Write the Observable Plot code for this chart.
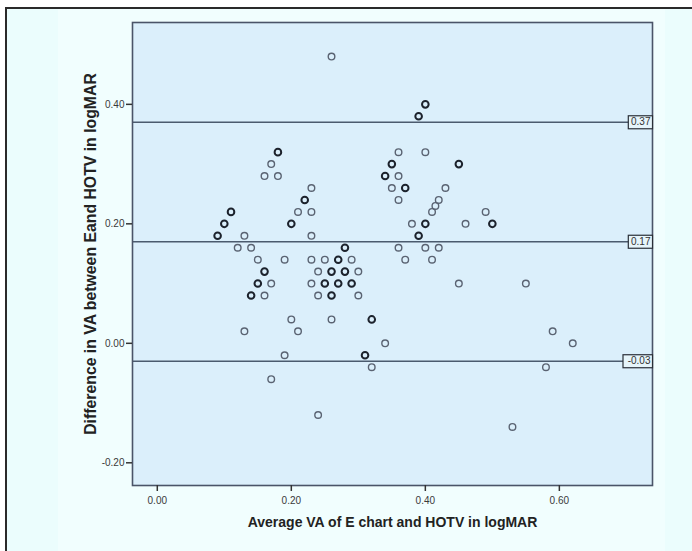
<!DOCTYPE html>
<html><head><meta charset="utf-8">
<script src="https://cdn.jsdelivr.net/npm/d3@7"></script>
<script src="https://cdn.jsdelivr.net/npm/@observablehq/plot@0.6"></script>
<style>
body{margin:0;background:#fff;}
#wrap{position:relative;width:692px;height:551px;overflow:hidden;font-family:"Liberation Sans",Arial,sans-serif;}
#bg{position:absolute;left:5px;top:7px;right:0;bottom:0;background:#ebfdfd;border-top:2px solid #2a2a2a;border-left:2px solid #2a2a2a;}
#inner{position:absolute;left:58px;top:9px;width:607px;bottom:0;background:#f1fefe;}
#chart{position:absolute;left:0;top:0;}
</style>
</head><body>
<div id="wrap"><div id="bg"></div><div id="inner"></div><div id="chart"></div></div>
<script>
const avgVA = [0.26,0.18,0.17,0.16,0.18,0.23,0.22,0.21,0.23,0.11,0.10,0.20,0.09,0.13,0.23,0.12,0.14,0.28,
  0.15,0.19,0.23,0.25,0.27,0.29,0.16,0.24,0.26,0.28,0.30,0.15,0.17,0.23,0.25,0.27,0.29,0.14,0.16,0.24,0.26,0.30,
  0.20,0.26,0.32,0.13,0.21,0.34,0.19,0.31,0.32,0.17,0.24,
  0.40,0.39,0.36,0.40,0.35,0.45,0.34,0.36,0.35,0.37,0.43,0.36,0.42,0.415,0.41,0.49,0.38,0.40,0.46,0.50,0.39,
  0.36,0.40,0.42,0.37,0.41,0.45,0.55,0.59,0.62,0.58,0.53];
const diffVA = [0.48,0.32,0.30,0.28,0.28,0.26,0.24,0.22,0.22,0.22,0.20,0.20,0.18,0.18,0.18,0.16,0.16,0.16,
  0.14,0.14,0.14,0.14,0.14,0.14,0.12,0.12,0.12,0.12,0.12,0.10,0.10,0.10,0.10,0.10,0.10,0.08,0.08,0.08,0.08,0.08,
  0.04,0.04,0.04,0.02,0.02,0.00,-0.02,-0.02,-0.04,-0.06,-0.12,
  0.40,0.38,0.32,0.32,0.30,0.30,0.28,0.28,0.26,0.26,0.26,0.24,0.24,0.23,0.22,0.22,0.20,0.20,0.20,0.20,0.18,
  0.16,0.16,0.16,0.14,0.14,0.10,0.10,0.02,0.00,-0.04,-0.14];
const overlap = [0,1,0,0,0,0,1,0,0,1,1,1,1,0,0,0,0,1,
  0,0,0,0,1,0,1,0,1,1,0,1,0,0,1,1,1,1,0,0,1,0,
  0,0,1,0,0,0,0,1,0,0,0,
  1,1,0,0,1,1,1,0,0,1,0,0,0,0,0,0,0,1,0,1,1,
  0,0,0,0,0,0,0,0,0,0,0];
const limits = [0.37, 0.17, -0.03];
const limitLabels = ["0.37", "0.17", "-0.03"];
const xTicks = [0, 0.2, 0.4, 0.6];
const yTicks = [-0.2, 0, 0.2, 0.4];
const xTitle = "Average VA of E chart and HOTV in logMAR";
const yTitle = "Difference in VA between Eand HOTV in logMAR";

const data = avgVA.map((x, i) => ({x, y: diffVA[i], dark: overlap[i] === 1}));
const fmt = d => d.toFixed(2);

const boxRender = (index, scales, values, dims, context, next) => {
  const g = next(index, scales, values, dims, context);
  const ns = "http://www.w3.org/2000/svg";
  const right = dims.width - dims.marginRight;
  for (const i of index) {
    const w = limitLabels[i].length * 5.3 + 3;
    const r = document.createElementNS(ns, "rect");
    r.setAttribute("x", right - w + 2);
    r.setAttribute("y", values.y[i] - 6.5);
    r.setAttribute("width", w);
    r.setAttribute("height", 13);
    r.setAttribute("fill", "#e6f5fb");
    r.setAttribute("stroke", "#2a2f38");
    r.setAttribute("stroke-width", "1.2");
    g.insertBefore(r, g.firstChild);
  }
  return g;
};

const chart = Plot.plot({
  width: 692, height: 551,
  marginLeft: 132, marginRight: 40, marginTop: 22, marginBottom: 66,
  style: {background: "transparent", fontFamily: "Liberation Sans, Arial, sans-serif", fontSize: "10px", color: "#3a3a3a"},
  x: {domain: [-0.037, 0.739]},
  y: {domain: [-0.238, 0.537]},
  marks: [
    Plot.frame({fill: "#dbeffb"}),
    Plot.ruleY(limits, {stroke: "#4b5b6e", strokeWidth: 1.6}),
    Plot.dot(data.filter(d => !d.dark), {x: "x", y: "y", r: 3.3, stroke: "#5a6372", strokeWidth: 1.4}),
    Plot.dot(data.filter(d => d.dark), {x: "x", y: "y", r: 3.3, stroke: "#1c222c", strokeWidth: 2}),
    Plot.frame({stroke: "#4a5468", strokeWidth: 1.6}),
    Plot.axisX(xTicks, {tickFormat: fmt, tickSize: 6, tickPadding: 5, stroke: "#333", strokeWidth: 1.5, label: null}),
    Plot.axisY(yTicks, {tickFormat: fmt, tickSize: 6, tickPadding: 2, stroke: "#333", strokeWidth: 1.5, label: null}),
    Plot.text(limits, {y: d => d, text: (d, i) => limitLabels[i], frameAnchor: "right", textAnchor: "end", dx: -2, fontSize: 10, fill: "#333", render: boxRender}),
    Plot.text([xTitle], {frameAnchor: "bottom", dy: 41, fontWeight: "bold", fontSize: 14, fill: "#222"}),
    Plot.text([yTitle], {frameAnchor: "left", textAnchor: "middle", dx: -42, rotate: -90, fontWeight: "bold", fontSize: 15.8, fill: "#222"})
  ]
});
document.getElementById("chart").appendChild(chart);
</script>
</body></html>
